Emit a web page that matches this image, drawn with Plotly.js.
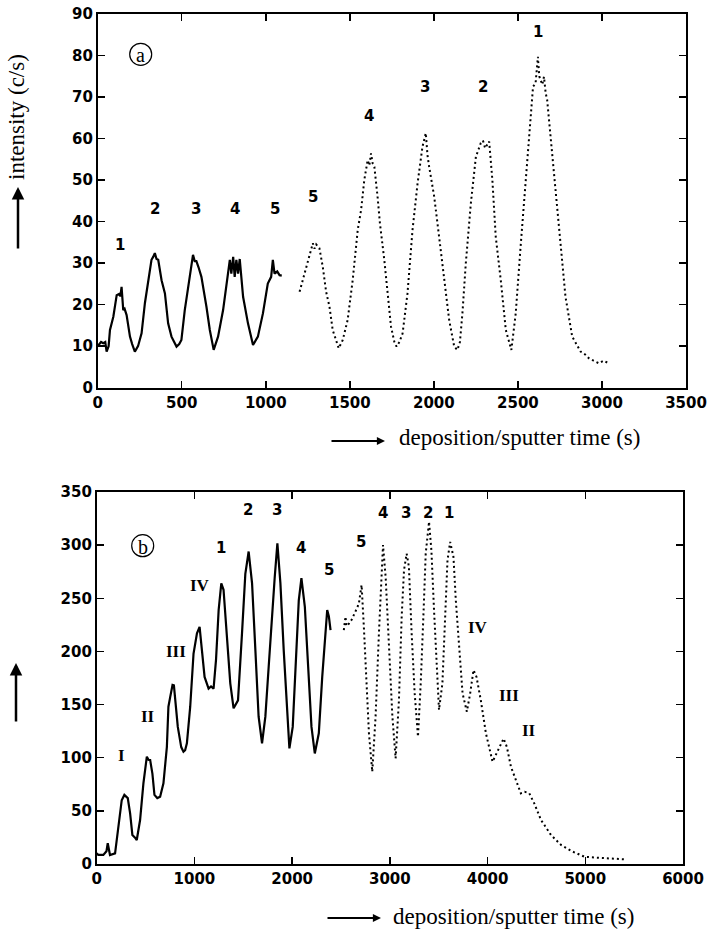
<!DOCTYPE html>
<html>
<head>
<meta charset="utf-8">
<script src="https://cdn.plot.ly/plotly-3.0.1.min.js"></script>
<style>html,body{margin:0;padding:0;background:#fff;}#chart{width:710px;height:931px;}</style>
</head>
<body>
<div id="chart"></div>
<script>
// ---------- data: panel (a) ----------
const topSolidX = [0,20,33,45,53,65,73,93,113,127,135,142,152,160,172,192,205,221,240,261,281,300,320,330,340,350,360,380,400,419,439,455,469,485,498,518,548,567,577,587,600,617,647,667,690,705,716,746,766,786,795,806,815,825,835,845,865,894,924,940,953,983,1012,1032,1042,1052,1068,1082,1095];
const topSolidY = [10,11,10.7,11,8.7,10,13.9,17.1,22.3,22.6,22,24.3,18.7,19,17.5,12.3,10.5,8.7,10,13.1,20.4,25.1,30.8,31.5,32.4,31,30.8,25.9,22.7,15.5,12.3,11,9.9,10.5,11.5,18.7,26.7,32,30.5,30.5,29,26.7,19.5,13.9,9.1,11,12.3,18.7,25.1,30.8,27.5,31.5,26.7,30.8,27.5,31,21.9,15.5,10.3,11.5,12.3,17.9,25.1,26.7,30.8,27.5,28,27.1,27];
const topDotX = [1201,1220,1240,1260,1280,1290,1300,1319,1339,1359,1379,1398,1418,1434,1446,1458,1487,1517,1547,1567,1586,1606,1616,1626,1636,1646,1665,1679,1705,1725,1745,1765,1778,1795,1814,1843,1873,1903,1932,1952,1962,1972,2002,2031,2061,2091,2121,2140,2155,2170,2190,2220,2250,2279,2292,2305,2317,2329,2348,2368,2398,2428,2461,2487,2516,2546,2576,2590,2605,2612,2619,2627,2635,2645,2655,2665,2674,2694,2724,2754,2783,2823,2873,2900,2922,2950,2981,3010,3040];
const topDotY = [23.1,26,29.1,32,34.8,33.5,34.5,33.6,29.1,23.1,19.5,13.9,11.5,9.5,10.5,11.5,16.3,25.9,38,42.8,50,54.8,53.5,56.4,54,53.2,46,39.6,30.8,21.9,14.7,11,9.9,11,13.1,22.7,38,49.2,58,61.3,56,53.2,46,36.4,25.9,16.3,9.9,9.1,11,18,30,44.4,55.6,58.9,59.5,57.7,58.5,59.3,50,36.4,25.9,13.9,9.1,17.9,34,50,66.1,72.5,73.3,76,79.7,75,74.1,73,74.9,71,69.3,60.5,46,34,21.9,12.3,8.7,8,7.1,6.5,5.9,6.5,5.9];
const topLabelText = ["1","2","3","4","5","5","4","3","2","1"];
const topLabelX = [133,340,583,815,1053,1280,1612,1948,2294,2619];
const topLabelY = [34.4,43,43,43,43,46,65.4,72.5,72.5,85.7];
const topXTicks = [0,500,1000,1500,2000,2500,3000,3500];
const topYTicks = [0,10,20,30,40,50,60,70,80,90];

// ---------- data: panel (b) ----------
const botSolidX = [0,17,68,100,113,125,136,188,222,256,283,300,318,342,365,390,410,444,478,513,530,547,570,591,620,649,683,718,734,752,776,790,803,830,865,888,905,923,957,991,1026,1053,1077,1104,1145,1170,1196,1221,1248,1275,1298,1333,1367,1401,1420,1446,1487,1521,1555,1590,1624,1657,1692,1726,1760,1795,1822,1849,1880,1914,1949,1972,2006,2034,2068,2095,2130,2164,2198,2232,2273,2308,2335,2359,2376,2393];
const botSolidY = [10,8.5,8.5,12,19.5,12,8.5,10,35,60,65,63,62,47.7,27.3,25,22.6,41.4,75.9,101,98,97.8,85,65,62,63.3,75.9,110,148,157,168.4,168,154,129,110,105.6,107,113.6,148,198,217,223,201,176,165,167,165,192,239,264,258,217,170,146.5,150,154,217,273,294,264,201,138.6,113.6,138.6,185.6,239,270,301.7,264,201,138.6,108.8,129,185.6,248,269,242,185.6,129,104,123,176,214,239,233,220];
const botDotX = [2529,2538,2546,2556,2580,2610,2632,2660,2683,2711,2734,2762,2786,2820,2854,2888,2913,2930,2957,2991,3026,3059,3093,3121,3145,3172,3195,3223,3254,3288,3316,3343,3367,3401,3425,3452,3480,3503,3538,3562,3590,3617,3651,3675,3709,3744,3788,3822,3856,3887,3931,3983,4051,4103,4164,4198,4239,4290,4341,4380,4427,4478,4547,4649,4752,4872,4990,5059,5150,5231,5320,5401];
const botDotY = [220,228,232.7,224,226,230,234,240,245,262.5,223,170,123,86.8,138.6,217,273.5,300,270,201,138.6,99.4,154,232.7,276.6,292,279.7,217,160.6,119.8,170,232.7,292,322,295.4,239,185.6,145,170,232.7,286,303,289,248,201,160.6,143.3,160.6,182.5,176,154,123,96.2,107,118,110,91.5,79,66.5,68,66.5,57,41.4,27.3,17.9,11.6,6.9,6.3,5.8,5.3,5,4.4];
const botLabelText = ["I","II","III","IV","1","2","3","4","5","5","4","3","2","1","IV","III","II"];
const botLabelX = [256,529,815,1060,1271,1545,1846,2095,2375,2708,2933,3169,3391,3606,3897,4221,4427];
const botLabelY = [102.5,139,200,262.5,297,333,333,297,276.6,303,330.5,330.5,330.5,330.5,222.7,159,126];
const botXTicks = [0,1000,2000,3000,4000,5000,6000];
const botYTicks = [0,50,100,150,200,250,300,350];

const panelTags = ["a","b"];
const yTitleText = "intensity (c/s)";
const xTitleText = "deposition/sputter time (s)";

// ---------- styling ----------
const W = 710, H = 931;
const px = v => v / W;
const py = v => 1 - v / H;
const tickFont = {family: "DejaVu Sans", size: 15, color: "#000", weight: "bold"};
const serif = "Liberation Serif, Times New Roman, serif";

function axis(domain, range, ticks, anchor) {
  return {
    domain: domain, range: range, tickvals: ticks, ticktext: ticks.map(String),
    ticks: "inside", ticklen: 7, tickwidth: 1.5, tickcolor: "#000",
    showline: true, linewidth: 1.8, linecolor: "#000", mirror: "allticks",
    showgrid: false, zeroline: false, anchor: anchor, tickfont: tickFont,
    fixedrange: true
  };
}

const traces = [
  {x: topSolidX, y: topSolidY, xaxis: "x", yaxis: "y", mode: "lines",
   line: {color: "#000", width: 2.2}, hoverinfo: "skip"},
  {x: topDotX, y: topDotY, xaxis: "x", yaxis: "y", mode: "lines",
   line: {color: "#000", width: 2, dash: "2px,3px"}, hoverinfo: "skip"},
  {x: botSolidX, y: botSolidY, xaxis: "x2", yaxis: "y2", mode: "lines",
   line: {color: "#000", width: 2.2}, hoverinfo: "skip"},
  {x: botDotX, y: botDotY, xaxis: "x2", yaxis: "y2", mode: "lines",
   line: {color: "#000", width: 2, dash: "2px,3px"}, hoverinfo: "skip"}
];

const annotations = [];
topLabelText.forEach((t, i) => annotations.push({
  xref: "x", yref: "y", x: topLabelX[i], y: topLabelY[i], text: t, showarrow: false,
  font: {family: "DejaVu Sans", size: 15, color: "#000", weight: "bold"}
}));
botLabelText.forEach((t, i) => {
  const roman = /^[IV]+$/.test(t);
  annotations.push({
    xref: "x2", yref: "y2", x: botLabelX[i], y: botLabelY[i], text: t, showarrow: false,
    font: roman ? {family: serif, size: 17, color: "#000", weight: "bold"}
                : {family: "DejaVu Sans", size: 15, color: "#000", weight: "bold"}
  });
});

// panel tags (circled letters)
const tagPos = [[140.7, 54.3], [142.7, 545.7]];
const shapes = [];
panelTags.forEach((t, i) => {
  annotations.push({xref: "paper", yref: "paper", x: px(tagPos[i][0]), y: py(tagPos[i][1] + 1),
    text: t, showarrow: false, xanchor: "center", yanchor: "middle",
    font: {family: serif, size: 20, color: "#000"}});
  shapes.push({type: "circle", xref: "paper", yref: "paper",
    xsizemode: "pixel", ysizemode: "pixel",
    xanchor: px(tagPos[i][0]), yanchor: py(tagPos[i][1]),
    x0: -11, x1: 11, y0: -11, y1: 11, line: {color: "#000", width: 1.2}});
});

// axis titles
annotations.push({xref: "paper", yref: "paper", x: px(16), y: py(117), text: yTitleText,
  textangle: -90, showarrow: false, xanchor: "center", yanchor: "middle",
  font: {family: serif, size: 23, color: "#000"}});
[[18, 187, 63], [16, 663, 60]].forEach(a => annotations.push({
  xref: "paper", yref: "paper", x: px(a[0]), y: py(a[1]), ax: 0, ay: a[2], text: "",
  showarrow: true, arrowhead: 2, arrowsize: 1, arrowwidth: 2.5, arrowcolor: "#000", standoff: 0
}));
[[519, 438], [513, 916]].forEach(a => annotations.push({
  xref: "paper", yref: "paper", x: px(a[0]), y: py(a[1]), text: xTitleText, showarrow: false,
  xanchor: "center", yanchor: "middle", font: {family: serif, size: 23, color: "#000"}
}));
[[385, 441], [381, 918]].forEach(a => annotations.push({
  xref: "paper", yref: "paper", x: px(a[0]), y: py(a[1]), ax: -55, ay: 0, text: "",
  showarrow: true, arrowhead: 2, arrowsize: 0.9, arrowwidth: 1.8, arrowcolor: "#000", standoff: 0
}));

const layout = {
  width: W, height: H, margin: {l: 0, r: 0, t: 0, b: 0},
  paper_bgcolor: "#fff", plot_bgcolor: "#fff", showlegend: false,
  xaxis: axis([px(97.7), px(686)], [0, 3500], topXTicks, "y"),
  yaxis: axis([py(387.7), py(14)], [0, 90], topYTicks, "x"),
  xaxis2: axis([px(96.7), px(683)], [0, 6000], botXTicks, "y2"),
  yaxis2: axis([py(864), py(492)], [0, 350], botYTicks, "x2"),
  annotations: annotations, shapes: shapes
};

Plotly.newPlot("chart", traces, layout, {staticPlot: true, displayModeBar: false});
</script>
</body>
</html>
